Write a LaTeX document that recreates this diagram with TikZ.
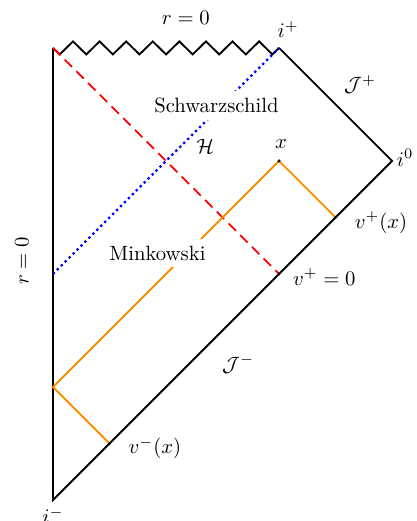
\documentclass[tikz,border=0pt]{standalone}
\usepackage{amsmath}
\usetikzlibrary{calc}
\definecolor{pdred}{HTML}{FF0000}
\definecolor{pdblue}{HTML}{0000FF}
\definecolor{pdorange}{HTML}{FF8C00}

\tikzset{
  edge/.style={line width=0.9pt, black},
  horizon/.style={line width=1.1pt, pdblue, dash pattern=on 1.1pt off 1.6pt},
  shell/.style={line width=0.9pt, pdred, dash pattern=on 5pt off 3pt},
  ray/.style={line width=0.9pt, pdorange},
  region/.style={fill=white}
}

\begin{document}
\begin{tikzpicture}[x=3.84cm, y=3.84cm]
    \useasboundingbox (-0.2345,-0.0929) rectangle (1.606,2.212);
    \coordinate (im) at (0,0);
    \coordinate (tl) at (0,2);
    \coordinate (ip) at (1,2);
    \coordinate (io) at (1.5,1.5);
    \coordinate (hl) at (0,1);
    \coordinate (vz) at (1,1);
    \coordinate (ol) at (0,0.5);
    \coordinate (x) at (1,1.5);
    \coordinate (vpx) at (1.25,1.25);
    \coordinate (vmx) at (0.25,0.25);

    % boundary, singularity
    \draw[edge] (tl) -- (im) -- (io) -- (ip);
    \draw[edge] (ip) \foreach \k in {0,...,16} {
        -- ({0.9706-\k*0.0588},{2+0.0288*(2*mod(\k,2)-1)}) } -- (tl);

    \draw[shell] (tl) -- (vz);
    \draw[horizon] (hl) -- (ip);
    \draw[ray] (vmx) -- (ol) -- (x) -- (vpx);
    \foreach \p in {x, vpx, vmx, vz}
        \fill (\p) circle (0.8pt);

    \node (rtop) at (0.588,2.133) {$r=0$};
    \node[rotate=90] (rleft) at (-0.137,1.058) {$r=0$};
    \node (lip) at (1.04,2.082) {$i^+$};
    \node (lio) at (1.558,1.513) {$i^0$};
    \node[below] (lim) at (im) {$i^-$};
    \node (scrip) at (1.358,1.838) {$\mathcal{J}^+$};
    \node (scrim) at (0.819,0.602) {$\mathcal{J}^-$};
    \node[region] (schw) at (0.723,1.745) {Schwarzschild};
    \node[region] (mink) at (0.462,1.093) {Minkowski};
    \node (hor) at (0.673,1.566) {$\mathcal{H}$};
    \node (lx) at (1.009,1.575) {$x$};
    \node (lvpx) at (1.451,1.228) {$v^+(x)$};
    \node (lvz) at (1.2,0.987) {$v^+=0$};
    \node (lvmx) at (0.451,0.230) {$v^-(x)$};
\end{tikzpicture}
\end{document}
